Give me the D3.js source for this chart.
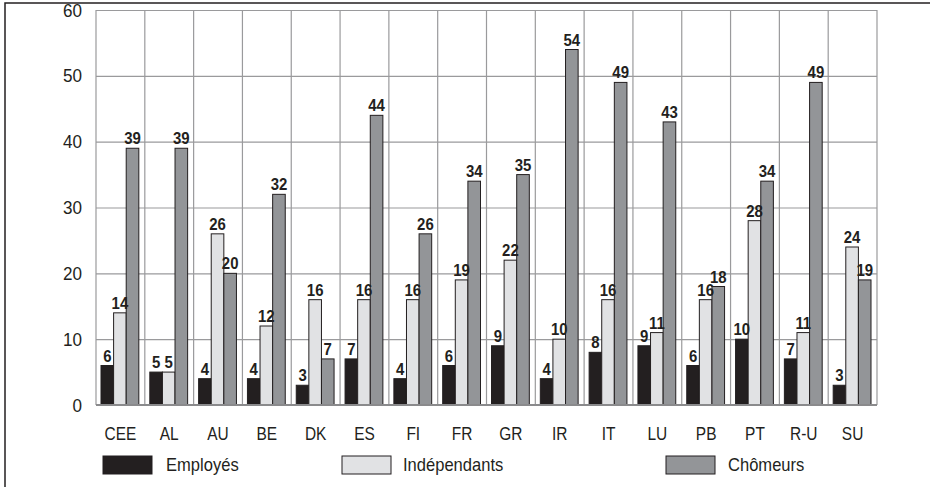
<!DOCTYPE html>
<html>
<head>
<meta charset="utf-8">
<script src="https://cdn.jsdelivr.net/npm/d3@7"></script>
<style>
  body { margin: 0; background: #fff; }
  svg { display: block; }
  text { font-family: "Liberation Sans", Arial, sans-serif; fill: #231f20; }
  .val { font-weight: bold; font-size: 17px; }
  .tick-lbl { font-size: 18px; }
  .leg { font-size: 18px; }
</style>
</head>
<body>
<svg id="chart" width="930" height="487"></svg>
<script>
const countries = ["CEE", "AL", "AU", "BE", "DK", "ES", "FI", "FR", "GR", "IR", "IT", "LU", "PB", "PT", "R-U", "SU"];
const seriesNames = ["Employés", "Indépendants", "Chômeurs"];
const employes = [6, 5, 4, 4, 3, 7, 4, 6, 9, 4, 8, 9, 6, 10, 7, 3];
const independants = [14, 5, 26, 12, 16, 16, 16, 19, 22, 10, 16, 11, 16, 28, 11, 24];
const chomeurs = [39, 39, 20, 32, 7, 44, 26, 34, 35, 54, 49, 43, 18, 34, 49, 19];
const yTicks = [0, 10, 20, 30, 40, 50, 60];
const colors = ["#231f20", "#e1e2e4", "#939598"];

render();

// narrow text: the original uses a condensed face
function narrow(sel, x, y, sx)
{
    sel.attr('transform', (d, i) => `translate(${x(d, i)}, ${y(d, i)}) scale(${sx}, 1)`);
}

function render()
{
    const svg = d3.select('#chart');
    const margin = { 'top' : 10, 'left' : 96, 'right' : 53, 'bottom' : 82 };
    const width = 930 - margin.left - margin.right;
    const height = 487 - margin.top - margin.bottom;

    // outer frame
    svg.append('rect')
        .attr('x', 5)
        .attr('y', 3)
        .attr('width', 940)
        .attr('height', 500)
        .attr('fill', 'none')
        .attr('stroke', '#231f20')
        .attr('stroke-width', 1.5);

    const chart = svg.append('g')
        .attr('transform', `translate(${margin.left}, ${margin.top})`);

    const xScale = d3.scaleBand()
        .domain(countries)
        .range([0, width])
        .padding(0);

    const xInner = d3.scaleBand()
        .domain(seriesNames)
        .range([5, xScale.bandwidth() - 6])
        .padding(0);

    const yScale = d3.scaleLinear()
        .domain([0, 60])
        .range([height, 0]);

    // horizontal grid
    chart.append('g')
        .call(d3.axisLeft(yScale).tickValues(yTicks).tickSize(-width).tickFormat(''))
        .call(g => g.select('.domain').remove())
        .selectAll('line')
        .attr('stroke', '#9a9a9c')
        .attr('stroke-width', 1.2);

    // vertical grid
    chart.append('g')
        .selectAll('line')
        .data(countries.concat(['__end']))
        .enter()
        .append('line')
        .attr('x1', (d, i) => i < countries.length ? xScale(d) : width)
        .attr('x2', (d, i) => i < countries.length ? xScale(d) : width)
        .attr('y1', 0)
        .attr('y2', height)
        .attr('stroke', '#9a9a9c')
        .attr('stroke-width', 1.2);

    // y tick labels
    chart.append('g')
        .selectAll('text')
        .data(yTicks)
        .enter()
        .append('text')
        .attr('class', 'tick-lbl')
        .attr('text-anchor', 'end')
        .text(d => d)
        .call(narrow, () => -14, d => yScale(d) + 6.5, 0.95);

    // x labels
    chart.append('g')
        .selectAll('text')
        .data(countries)
        .enter()
        .append('text')
        .attr('class', 'tick-lbl')
        .attr('text-anchor', 'middle')
        .text(d => d)
        .call(narrow, d => xScale(d) + xScale.bandwidth() / 2, () => height + 35, 0.86);

    const allSeries = [employes, independants, chomeurs];
    const rows = [];
    countries.forEach((c, i) => {
        seriesNames.forEach((s, j) => {
            rows.push({ country: c, series: s, idx: j, value: allSeries[j][i] });
        });
    });

    chart.selectAll('.bar')
        .data(rows)
        .enter()
        .append('rect')
        .attr('class', 'bar')
        .attr('x', d => xScale(d.country) + xInner(d.series))
        .attr('y', d => yScale(d.value))
        .attr('width', xInner.bandwidth())
        .attr('height', d => height - yScale(d.value))
        .attr('fill', d => colors[d.idx])
        .attr('stroke', '#231f20')
        .attr('stroke-width', 1);

    chart.selectAll('.val')
        .data(rows)
        .enter()
        .append('text')
        .attr('class', 'val')
        .attr('text-anchor', 'middle')
        .text(d => d.value)
        .call(narrow, d => xScale(d.country) + xInner(d.series) + xInner.bandwidth() / 2,
                      d => yScale(d.value) - 4, 0.88);

    // axis baseline
    chart.append('line')
        .attr('x1', 0)
        .attr('x2', width)
        .attr('y1', height)
        .attr('y2', height)
        .attr('stroke', '#8a8a8c')
        .attr('stroke-width', 2);

    // legend
    const legendPos = [
        { sx: 103, tx: 166 },
        { sx: 342, tx: 403 },
        { sx: 666, tx: 728 }
    ];
    const legend = svg.append('g');
    seriesNames.forEach((s, j) => {
        legend.append('rect')
            .attr('x', legendPos[j].sx)
            .attr('y', 456)
            .attr('width', 49)
            .attr('height', 18)
            .attr('fill', colors[j])
            .attr('stroke', '#231f20')
            .attr('stroke-width', 1);
        legend.append('text')
            .attr('class', 'leg')
            .attr('transform', `translate(${legendPos[j].tx}, 471) scale(0.92, 1)`)
            .text(s);
    });
}
</script>
</body>
</html>
